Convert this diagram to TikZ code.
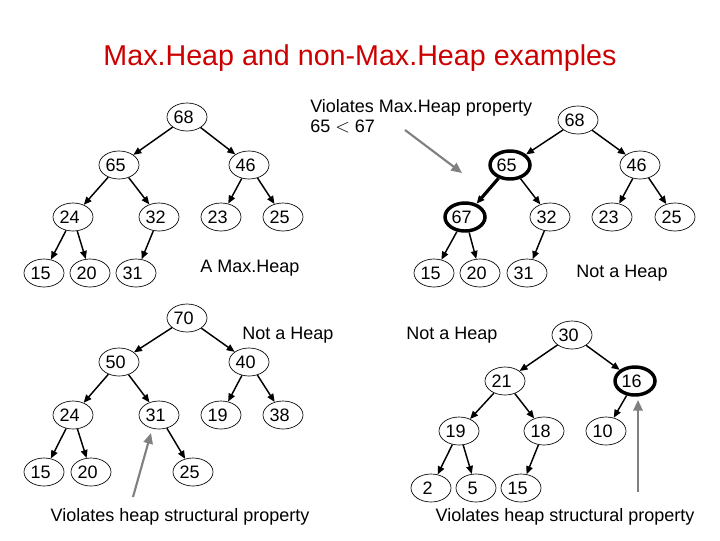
\documentclass[tikz,border=0pt]{standalone}
\usepackage{fontspec}
\setmainfont{Liberation Sans}
\usetikzlibrary{arrows.meta,shapes.geometric}
\newcommand\nt[1]{#1\hspace*{5pt}}
\begin{document}
\begin{tikzpicture}[x=0.75pt,y=-0.75pt,
  nd/.style={draw,ellipse,line width=0.5pt,inner sep=0pt,minimum width=30pt,minimum height=21pt,font=\fontsize{13.5}{15}\selectfont},
  tk/.style={nd,line width=2.6pt},
  ed/.style={-{Triangle[length=6pt,width=5pt]},line width=1.1pt},
  edt/.style={ed,line width=2.4pt},
  gar/.style={-{Triangle[length=8pt,width=7pt]},draw=gray,line width=1.6pt},
  lbl/.style={font=\fontsize{13.5}{15}\selectfont,inner sep=0pt}]
\useasboundingbox (0,0) rectangle (720,540);
\node[font=\fontsize{21.5}{26}\selectfont,text=red!80!black] (title) at (360,58) {Max.Heap and non-Max.Heap examples};
% tree 1
\node[nd] (a68) at (187,117) {\nt{68}};
\node[nd] (a65) at (119,165) {\nt{65}};
\node[nd] (a46) at (249,165) {\nt{46}};
\node[nd] (a24) at (73,217) {\nt{24}};
\node[nd] (a32) at (159,217) {\nt{32}};
\node[nd] (a23) at (221,217) {\nt{23}};
\node[nd] (a25) at (283,217) {\nt{25}};
\node[nd] (a15) at (44,273) {\nt{15}};
\node[nd] (a20) at (90,273) {\nt{20}};
\node[nd] (a31) at (136,273) {\nt{31}};
\foreach \p/\c in {a68/a65,a68/a46,a65/a24,a65/a32,a46/a23,a46/a25,a24/a15,a24/a20,a32/a31}
  \draw[ed] (\p) -- (\c);
\node[lbl] (l1) at (250,268) {A Max.Heap};
% tree 2
\node[nd] (b68) at (578,120) {\nt{68}};
\node[tk] (b65) at (510,165) {\nt{65}};
\node[nd] (b46) at (640,165) {\nt{46}};
\node[tk] (b67) at (465,217) {\nt{67}};
\node[nd] (b32) at (550,217) {\nt{32}};
\node[nd] (b23) at (612,217) {\nt{23}};
\node[nd] (b25) at (675,217) {\nt{25}};
\node[nd] (b15) at (434,273) {\nt{15}};
\node[nd] (b20) at (480,273) {\nt{20}};
\node[nd] (b31) at (527,273) {\nt{31}};
\foreach \p/\c in {b68/b65,b68/b46,b65/b32,b46/b23,b46/b25,b67/b15,b67/b20,b32/b31}
  \draw[ed] (\p) -- (\c);
\draw[edt] (b65) -- (b67);
\node[lbl] (l2) at (622,273) {Not a Heap};
\node[lbl,align=left,anchor=north west] (v1) at (310,99) {Violates Max.Heap property\\65 $<$ 67};
\coordinate (v1s) at (405,130);
\coordinate (v1t) at (462,173);
\draw[gar] (v1s) -- (v1t);
% tree 3
\node[nd] (c70) at (187,318) {\nt{70}};
\node[nd] (c50) at (119,362) {\nt{50}};
\node[nd] (c40) at (249,362) {\nt{40}};
\node[nd] (c24) at (73,415) {\nt{24}};
\node[nd] (c31) at (159,415) {\nt{31}};
\node[nd] (c19) at (221,415) {\nt{19}};
\node[nd] (c38) at (283,415) {\nt{38}};
\node[nd] (c15) at (44,472) {\nt{15}};
\node[nd] (c20) at (91,472) {\nt{20}};
\node[nd] (c25) at (193,472) {\nt{25}};
\foreach \p/\c in {c70/c50,c70/c40,c50/c24,c50/c31,c40/c19,c40/c38,c24/c15,c24/c20,c31/c25}
  \draw[ed] (\p) -- (\c);
\node[lbl] (l3) at (288,335) {Not a Heap};
\node[lbl] (v2) at (180,517) {Violates heap structural property};
\coordinate (v2s) at (133,497);
\coordinate (v2t) at (151,433);
\draw[gar] (v2s) -- (v2t);
% tree 4
\node[nd] (d30) at (572,335) {\nt{30}};
\node[nd] (d21) at (505,381) {\nt{21}};
\node[tk] (d16) at (635,381) {\nt{16}};
\node[nd] (d19) at (459,431) {\nt{19}};
\node[nd] (d18) at (544,431) {\nt{18}};
\node[nd] (d10) at (606,431) {\nt{10}};
\node[nd] (d2) at (431,488) {\nt{2}};
\node[nd] (d5) at (476,488) {\nt{5}};
\node[nd] (d15) at (521,488) {\nt{15}};
\foreach \p/\c in {d30/d21,d30/d16,d21/d19,d21/d18,d16/d10,d19/d2,d19/d5,d18/d15}
  \draw[ed] (\p) -- (\c);
\node[lbl] (l4) at (452,335) {Not a Heap};
\node[lbl] (v3) at (565,517) {Violates heap structural property};
\coordinate (v3s) at (638,492);
\coordinate (v3t) at (638,400);
\draw[gar] (v3s) -- (v3t);
\end{tikzpicture}
\end{document}
